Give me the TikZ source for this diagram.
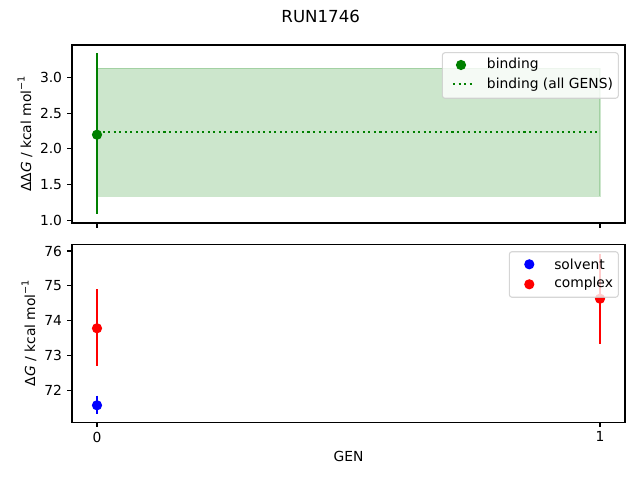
\documentclass[tikz,border=0pt]{standalone}
\usepackage{fontspec}
\setmainfont{DejaVu Sans}
\begin{document}
\begin{tikzpicture}[x=0.01in,y=-0.01in,
  lab/.style={inner sep=0pt,font=\fontsize{10}{12}\selectfont},
  ttl/.style={inner sep=0pt,font=\fontsize{12}{14}\selectfont},
  spine/.style={line width=0.75pt,black},
  tck/.style={line width=0.75pt,black},
  ebar/.style={line width=1.5pt},
  legbox/.style={draw=black!20,fill=white,fill opacity=0.8,draw opacity=0.8,rounded corners=2pt,line width=0.8pt}]
\useasboundingbox (0,0) rectangle (640,480);
\definecolor{mgreen}{HTML}{008000}
\definecolor{mblue}{HTML}{0000FF}
\definecolor{mred}{HTML}{FF0000}
\def\mr{3.7pt}
% title
\node[ttl] (title) at (320.7,16) {RUN1746};
% ---------- top axes ----------
\fill[mgreen,fill opacity=0.2] (97,68.3) rectangle (600,196.3);
\draw[mgreen,draw opacity=0.2,line width=0.8pt] (97,68.3) rectangle (600,196.3);
\draw[mgreen,line width=1.5pt,dash pattern=on 1.5pt off 2.5pt] (97,131.7) -- (600,131.7);
\draw[ebar,mgreen] (97,53.3) -- (97,214.3);
\fill[mgreen] (97,134.7) circle (\mr);
% spines
\draw[spine] (72,45) rectangle (625,223);
% y ticks
\foreach \v/\yy in {3.0/77.3,2.5/113.05,2.0/148.8,1.5/184.55,1.0/220.3}{
  \draw[tck] (72,\yy) -- (67.1,\yy);
  \node[lab,anchor=east] at (62.3,\yy) {\v};
}
% x ticks (no labels)
\draw[tck] (97,223) -- (97,227.9);
\draw[tck] (600,223) -- (600,227.9);
\node[lab,rotate=90] (ylab1) at (25,134) {ΔΔ\textit{G} / kcal mol\raisebox{0.85ex}{\fontsize{7}{8}\selectfont −1}};
% legend top
\draw[legbox] (442.3,52.7) rectangle (618.3,98.3);
\fill[mgreen] (461,65) circle (\mr);
\node[lab,anchor=west] (lb1) at (486.7,64.5) {binding};
\draw[mgreen,line width=1.5pt,dash pattern=on 1.5pt off 2.5pt] (453,84.3) -- (474,84.3);
\node[lab,anchor=west] (lb2) at (486.7,84.3) {binding (all GENS)};
% ---------- bottom axes ----------
\draw[ebar,mred] (97,289.3) -- (97,365.7);
\fill[mred] (97,328.3) circle (\mr);
\draw[ebar,mblue] (97,395.7) -- (97,413.7);
\fill[mblue] (97,405.3) circle (\mr);
\draw[ebar,mred] (600,253.7) -- (600,343.7);
\fill[mred] (600,298.7) circle (\mr);
\draw[spine] (72,244.3) rectangle (625,422.3);
\foreach \v/\yy in {76/251,75/285.8,74/320.65,73/355.5,72/390.3}{
  \draw[tck] (72,\yy) -- (67.1,\yy);
  \node[lab,anchor=east] at (62.3,\yy) {\v};
}
\draw[tck] (97,422.3) -- (97,427.2);
\draw[tck] (600,422.3) -- (600,427.2);
\node[lab,anchor=north] (x0) at (97,431.5) {0};
\node[lab,anchor=north] (x1) at (600,431.5) {1};
\node[lab] (xlab) at (348.5,456.7) {GEN};
\node[lab,rotate=90] (ylab2) at (29,333) {Δ\textit{G} / kcal mol\raisebox{0.85ex}{\fontsize{7}{8}\selectfont −1}};
% legend bottom
\draw[legbox] (509.3,251.7) rectangle (618.3,297.3);
\fill[mblue] (529.3,264.3) circle (\mr);
\node[lab,anchor=west] (ls) at (554,264) {solvent};
\fill[mred] (529.3,284.3) circle (\mr);
\node[lab,anchor=west] (lc) at (554,284) {complex};
\end{tikzpicture}
\end{document}
